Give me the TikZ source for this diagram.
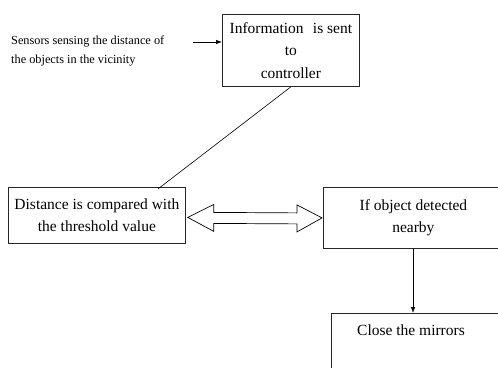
\documentclass[tikz,border=0pt]{standalone}
\usepackage{fontspec}
\setmainfont{Liberation Serif}
\usetikzlibrary{arrows.meta,calc}
\begin{document}
\begin{tikzpicture}[x=1pt,y=-1pt,
  box/.style={draw=black!85, line width=0.8pt, align=center, inner sep=0pt,
    font=\fontsize{15.5}{22.5}\selectfont},
  lbl/.style={inner sep=0pt, align=left},
  tip/.style={-{Latex[length=6pt,width=4.5pt]}, line width=0.7pt}]
\useasboundingbox (0,0) rectangle (498,367);
\clip (0,0) rectangle (498,367);

% process boxes
\node[box, minimum width=137pt, minimum height=72pt, anchor=north west] (info) at (222,14)
  {Information\hspace{0.6em}is sent\\to\\controller};
\node[box, minimum width=177pt, minimum height=56pt, anchor=north west] (dist) at (8,187)
  {Distance is compared with\\the threshold value};
\node[box, minimum width=180pt, minimum height=61pt, anchor=north west] (detect) at (323,187)
  {If object detected\\nearby};
\node[box, minimum width=180pt, minimum height=70pt, anchor=north west] (close) at (331,313) {};
\node[lbl, anchor=west, font=\fontsize{15.5}{22}\selectfont] (closetxt) at (357,330) {Close the mirrors};

% sensor input
\node[lbl, anchor=west, font=\fontsize{12.3}{19}\selectfont] (sensors) at (11,51)
  {Sensors sensing the distance of\\the objects in the vicinity};
\coordinate (sstart) at (193,42);
\draw[tip] (sstart) -- (sstart -| info.west);

% controller to comparison
\draw[line width=0.6pt] (info.south) -- ([xshift=61pt,yshift=-2pt]dist.north);

% hollow double arrow between comparison and detection
\coordinate (L) at ($(dist.east)+(2,2)$);
\coordinate (R) at ($(detect.west)+(-1,0)$);
\draw[line width=0.7pt]
  (L) -- ($(L)+(26,-13)$) -- ($(L)+(26,-5)$) -- ($(R)+(-25,-5)$) -- ($(R)+(-25,-13)$)
  -- (R) -- ($(R)+(-25,14)$) -- ($(R)+(-25,6)$) -- ($(L)+(26,6)$) -- ($(L)+(26,14)$) -- cycle;

% detection to action
\draw[tip] (detect.south -| 413,0) -- (close.north -| 413,0);
\end{tikzpicture}
\end{document}
